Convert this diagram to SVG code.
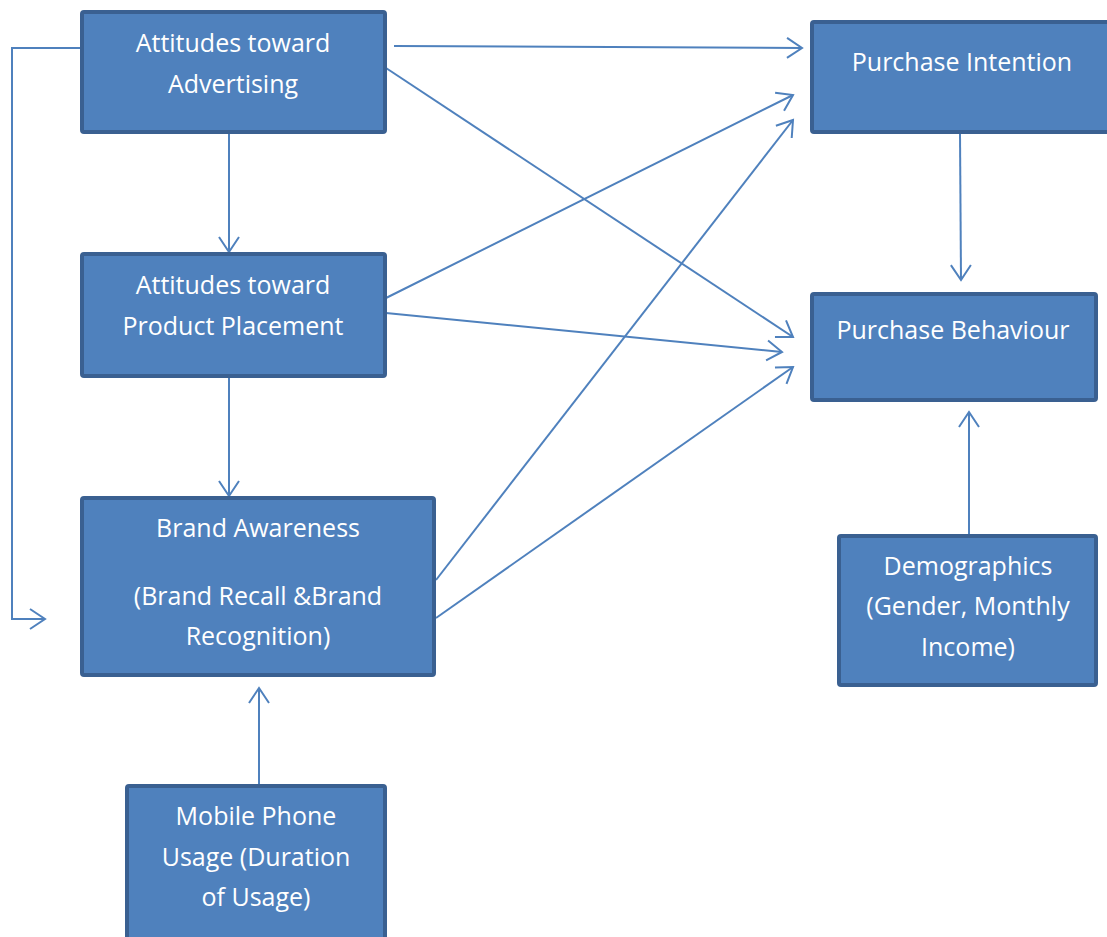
<svg xmlns="http://www.w3.org/2000/svg" width="1107" height="937" viewBox="0 0 1107 937">
  <style>
    .box { fill: #4f81bd; stroke: #3a6091; stroke-width: 4; }
    .lbl { fill: #ffffff; font-family: "Open Sans", "Noto Sans", sans-serif; font-size: 25px; text-anchor: middle; }
    .edge { fill: none; stroke: #4f81bd; stroke-width: 2; }
  </style>
  <defs>
    <marker id="arrow" markerUnits="userSpaceOnUse" markerWidth="20" markerHeight="24" refX="16" refY="11" orient="auto" viewBox="0 0 20 22">
      <path d="M1,1 L16,11 L1,21" fill="none" stroke="#4f81bd" stroke-width="2"/>
    </marker>
  </defs>
  <rect width="1107" height="937" fill="#ffffff"/>

  <g id="connectors" class="edges">
    <polyline class="edge" points="80,48 12,48 12,619 45,619" marker-end="url(#arrow)"/>
    <line class="edge" x1="394" y1="46" x2="802" y2="48" marker-end="url(#arrow)"/>
    <line class="edge" x1="386" y1="68" x2="793" y2="337" marker-end="url(#arrow)"/>
    <line class="edge" x1="229" y1="134" x2="229" y2="252" marker-end="url(#arrow)"/>
    <line class="edge" x1="386" y1="298" x2="793" y2="95" marker-end="url(#arrow)"/>
    <line class="edge" x1="386" y1="313" x2="782" y2="352" marker-end="url(#arrow)"/>
    <line class="edge" x1="436" y1="580" x2="793" y2="120" marker-end="url(#arrow)"/>
    <line class="edge" x1="436" y1="618" x2="793" y2="367" marker-end="url(#arrow)"/>
    <line class="edge" x1="229" y1="378" x2="229" y2="496" marker-end="url(#arrow)"/>
    <line class="edge" x1="259" y1="784" x2="259" y2="688" marker-end="url(#arrow)"/>
    <line class="edge" x1="960" y1="134" x2="961" y2="280" marker-end="url(#arrow)"/>
    <line class="edge" x1="969" y1="534" x2="969" y2="412" marker-end="url(#arrow)"/>
  </g>

  <g id="attitudes-advertising">
    <rect class="box" x="82" y="12" width="303" height="120" rx="2"/>
    <text class="lbl" x="233" y="52">Attitudes toward</text>
    <text class="lbl" x="233" y="93">Advertising</text>
  </g>

  <g id="attitudes-placement">
    <rect class="box" x="82" y="254" width="303" height="122" rx="2"/>
    <text class="lbl" x="233" y="294">Attitudes toward</text>
    <text class="lbl" x="233" y="335">Product Placement</text>
  </g>

  <g id="brand-awareness">
    <rect class="box" x="82" y="498" width="352" height="177" rx="2"/>
    <text class="lbl" x="258" y="537">Brand Awareness</text>
    <text class="lbl" x="258" y="605">(Brand Recall &amp;Brand</text>
    <text class="lbl" x="258" y="645">Recognition)</text>
  </g>

  <g id="mobile-usage">
    <rect class="box" x="127" y="786" width="258" height="160" rx="2"/>
    <text class="lbl" x="256" y="825">Mobile Phone</text>
    <text class="lbl" x="256" y="866">Usage (Duration</text>
    <text class="lbl" x="256" y="906">of Usage)</text>
  </g>

  <g id="purchase-intention">
    <rect class="box" x="812" y="22" width="300" height="110" rx="2"/>
    <text class="lbl" x="962" y="71">Purchase Intention</text>
  </g>

  <g id="purchase-behaviour">
    <rect class="box" x="812" y="294" width="284" height="106" rx="2"/>
    <text class="lbl" x="953" y="339">Purchase Behaviour</text>
  </g>

  <g id="demographics">
    <rect class="box" x="839" y="536" width="257" height="149" rx="2"/>
    <text class="lbl" x="968" y="575">Demographics</text>
    <text class="lbl" x="968" y="615">(Gender, Monthly</text>
    <text class="lbl" x="968" y="656">Income)</text>
  </g>
</svg>
